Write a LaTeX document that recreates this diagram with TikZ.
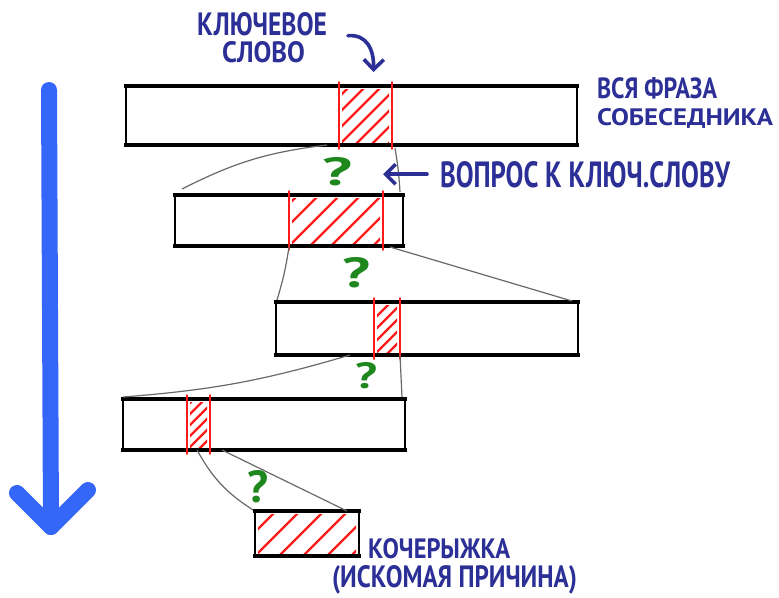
\documentclass[tikz,border=0pt]{standalone}
\usepackage{fontspec}
\usepackage{graphicx}
\newfontfamily\hand{PT Sans}
\usetikzlibrary{arrows.meta}
\definecolor{ink}{RGB}{43,47,150}
\definecolor{qgreen}{RGB}{30,135,30}
\definecolor{bigblue}{RGB}{52,102,250}
\definecolor{hred}{RGB}{255,25,25}
\definecolor{conngrey}{RGB}{105,105,105}
\newcommand\htx[3]{\resizebox{#1pt}{#2pt}{\hand\bfseries #3}}
\newcommand\hatchin[2]{%
  \begin{scope}
    \clip ([shift={(3pt,3pt)}]#1.south west) rectangle ([shift={(-3pt,-3pt)}]#1.north east);
    \foreach \k in {-12,...,12}{%
      \draw[hatchl] ([xshift={(\k*#2)*1pt}]#1.south west) -- ++(130,-130);}
  \end{scope}}
\begin{document}
\begin{tikzpicture}[x=1pt,y=-1pt,
  boxn/.style={draw=black, line width=2.4pt, fill=white, inner sep=0pt, outer sep=0pt, anchor=north west},
  edgetop/.style={draw=black, line width=3.4pt, line cap=rect},
  edgebot/.style={draw=black, line width=4.2pt, line cap=rect},
  region/.style={inner sep=0pt, outer sep=0pt, anchor=north west},
  redv/.style={draw=hred, line width=1.5pt, line cap=round},
  hatchl/.style={draw=hred, line width=2.4pt, line cap=round},
  conn/.style={draw=conngrey, line width=1.2pt},
  lbl/.style={inner sep=0pt, outer sep=0pt, anchor=base west, text=ink},
  qmark/.style={inner sep=0pt, outer sep=0pt, anchor=base, text=qgreen},
  pointer/.style={draw=ink, line width=3.6pt, line cap=round, line join=round,
    -{Straight Barb[length=10pt, width=20pt, line width=3.6pt]}},
  bigarrow/.style={draw=bigblue, line width=16pt, line cap=round, line join=round}]
\useasboundingbox[fill=white] (0,0) rectangle (779,597);

% boxes
\node[boxn, minimum width=451pt, minimum height=59pt] (b1) at (126,86) {};
\node[boxn, minimum width=228pt, minimum height=51pt] (b2) at (175,195) {};
\node[boxn, minimum width=302pt, minimum height=53pt] (b3) at (276,302) {};
\node[boxn, minimum width=282pt, minimum height=51pt] (b4) at (123,399) {};
\node[boxn, minimum width=104pt, minimum height=45pt] (b5) at (255,511) {};
\foreach \b in {b1,b2,b3,b4,b5}{%
  \draw[edgetop] (\b.north west) -- (\b.north east);
  \draw[edgebot] (\b.south west) -- (\b.south east);}

% keyword regions
\node[region, minimum width=53pt, minimum height=59pt] (r1) at (339,86) {};
\node[region, minimum width=94pt, minimum height=51pt] (r2) at (289,195) {};
\node[region, minimum width=26pt, minimum height=53pt] (r3) at (374,302) {};
\node[region, minimum width=23pt, minimum height=51pt] (r4) at (187,399) {};
\node[region, minimum width=104pt, minimum height=45pt] (r5) at (255,511) {};

\hatchin{r1}{16}
\hatchin{r2}{21}
\hatchin{r3}{12}
\hatchin{r4}{11}
\hatchin{r5}{24}

\foreach \r in {r1,r2,r3,r4}{%
  \draw[redv] ([yshift=4pt]\r.north west) -- ([yshift=-4pt]\r.south west);
  \draw[redv] ([yshift=4pt]\r.north east) -- ([yshift=-4pt]\r.south east);}

% grey connectors
\draw[conn] ([xshift=-12pt]r1.south west) to[bend right=10] ([shift={(7pt,6pt)}]b2.north west);
\draw[conn] ([shift={(3pt,-3pt)}]r1.south east) to[bend left=3] ([shift={(-3pt,3pt)}]b2.north east);
\draw[conn] ([yshift=-1pt]r2.south west) to[bend left=4] ([shift={(1pt,2pt)}]b3.north west);
\draw[conn] ([shift={(7pt,-1pt)}]r2.south east) -- ([shift={(-6pt,1pt)}]b3.north east);
\draw[conn] ([xshift=-24pt]r3.south west) to[bend left=6] ([yshift=2pt]b4.north west);
\draw[conn] (r3.south east) -- ([shift={(-3pt,2pt)}]b4.north east);
\draw[conn] ([xshift=10pt]r4.south west) to[bend right=14] ([shift={(-2pt,1pt)}]b5.north west);
\draw[conn] ([xshift=12pt]r4.south east) -- ([xshift=-12pt]b5.north east);

% question marks
\node[qmark] (q1) at (337,185) {\htx{30}{28}{?}};
\node[qmark] (q2) at (356,287) {\htx{28}{30}{?}};
\node[qmark] (q3) at (366,388) {\htx{22}{26}{?}};
\node[qmark] (q4) at (258,502) {\htx{21}{32}{?}};

% labels
\node[lbl] (kw1) at (197,35) {\htx{130}{23}{КЛЮЧЕВОЕ}};
\node[lbl] (kw2) at (222,62) {\htx{83}{21}{СЛОВО}};
\node[lbl] (ph1) at (597,98) {\htx{120}{21}{ВСЯ ФРАЗА}};
\node[lbl] (ph2) at (597,125) {\htx{176}{17}{СОБЕСЕДНИКА}};
\node[lbl] (qt) at (440,187) {\htx{290}{26}{ВОПРОС К КЛЮЧ.СЛОВУ}};
\node[lbl] (co1) at (368,558) {\htx{142}{20}{КОЧЕРЫЖКА}};
\node[lbl] (co2) at (332,587) {\htx{245}{22}{(ИСКОМАЯ ПРИЧИНА)}};

% pointers
\draw[pointer] ([shift={(21pt,-12pt)}]kw1.east) .. controls (367,34) and (374,50) .. ([shift={(8pt,14pt)}]r1.north);
\draw[pointer] ([xshift=-13pt]qt.west) -- ([xshift=-57pt]qt.west);

% big blue arrow
\coordinate (ba) at (49,90);
\coordinate (bb) at (51,527);
\coordinate (bw1) at (17,493);
\coordinate (bw2) at (88,490);
\draw[bigarrow] (ba) -- (bb);
\draw[bigarrow] (bw1) -- (bb) -- (bw2);
\end{tikzpicture}
\end{document}
